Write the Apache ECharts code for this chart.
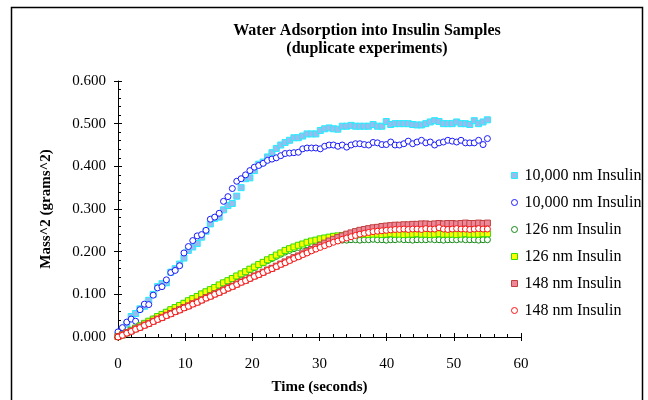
<!DOCTYPE html>
<html><head><meta charset="utf-8">
<script src="https://cdn.jsdelivr.net/npm/echarts@6/dist/echarts.min.js"></script>
<style>html,body{margin:0;padding:0;background:#fff}#c{width:648px;height:400px}</style>
</head><body><div id="c"></div>
<script>
const times = [0,0.65,1.31,1.96,2.62,3.27,3.93,4.58,5.24,5.89,6.55,7.2,7.86,8.51,9.17,9.82,10.48,11.13,11.79,12.44,13.1,13.75,14.4,15.06,15.71,16.37,17.02,17.68,18.33,18.99,19.64,20.3,20.95,21.61,22.26,22.92,23.57,24.23,24.88,25.54,26.19,26.85,27.5,28.15,28.81,29.46,30.12,30.77,31.43,32.08,32.74,33.39,34.05,34.7,35.36,36.01,36.67,37.32,37.98,38.63,39.29,39.94,40.6,41.25,41.9,42.56,43.21,43.87,44.52,45.18,45.83,46.49,47.14,47.8,48.45,49.11,49.76,50.42,51.07,51.73,52.38,53.04,53.69,54.35,55];
const ins10000A = [0.005,0.018,0.030,0.048,0.055,0.066,0.072,0.086,0.100,0.118,0.125,0.127,0.152,0.160,0.171,0.185,0.203,0.211,0.219,0.234,0.248,0.265,0.278,0.281,0.298,0.308,0.313,0.330,0.350,0.371,0.373,0.390,0.405,0.410,0.422,0.432,0.442,0.450,0.456,0.461,0.467,0.467,0.471,0.476,0.476,0.476,0.484,0.488,0.490,0.488,0.487,0.494,0.494,0.496,0.494,0.494,0.494,0.494,0.498,0.494,0.494,0.505,0.498,0.500,0.500,0.500,0.500,0.498,0.497,0.497,0.500,0.504,0.507,0.505,0.500,0.500,0.500,0.504,0.500,0.500,0.498,0.507,0.500,0.504,0.509];
const ins10000B = [0.012,0.022,0.035,0.042,0.037,0.064,0.077,0.076,0.098,0.115,0.118,0.134,0.151,0.156,0.167,0.197,0.212,0.226,0.237,0.240,0.250,0.276,0.281,0.290,0.318,0.329,0.348,0.365,0.371,0.380,0.390,0.398,0.402,0.407,0.414,0.417,0.420,0.425,0.430,0.431,0.432,0.433,0.441,0.443,0.443,0.443,0.441,0.447,0.450,0.450,0.447,0.450,0.445,0.450,0.453,0.453,0.451,0.450,0.456,0.455,0.451,0.451,0.457,0.450,0.450,0.453,0.459,0.453,0.457,0.461,0.455,0.457,0.450,0.455,0.457,0.461,0.459,0.457,0.461,0.455,0.455,0.455,0.461,0.451,0.465];
const ins126B = [0.000,0.005,0.009,0.015,0.020,0.026,0.031,0.036,0.042,0.047,0.052,0.058,0.063,0.068,0.073,0.079,0.084,0.089,0.095,0.100,0.105,0.110,0.116,0.121,0.126,0.131,0.137,0.142,0.147,0.152,0.158,0.163,0.169,0.174,0.179,0.184,0.189,0.194,0.199,0.203,0.207,0.210,0.213,0.216,0.219,0.221,0.223,0.224,0.225,0.226,0.226,0.227,0.227,0.228,0.228,0.227,0.228,0.228,0.229,0.228,0.228,0.227,0.228,0.228,0.229,0.228,0.228,0.227,0.228,0.228,0.228,0.229,0.228,0.228,0.227,0.228,0.228,0.228,0.229,0.228,0.228,0.228,0.227,0.228,0.228];
const ins126A = [0.001,0.005,0.010,0.016,0.021,0.026,0.032,0.037,0.042,0.048,0.053,0.058,0.064,0.069,0.074,0.079,0.085,0.090,0.095,0.101,0.106,0.111,0.116,0.122,0.127,0.132,0.137,0.143,0.148,0.153,0.159,0.164,0.170,0.175,0.181,0.186,0.192,0.197,0.203,0.207,0.211,0.215,0.218,0.222,0.225,0.227,0.230,0.232,0.234,0.236,0.237,0.238,0.239,0.239,0.240,0.240,0.241,0.240,0.241,0.241,0.240,0.241,0.242,0.241,0.241,0.240,0.241,0.241,0.242,0.241,0.241,0.240,0.241,0.242,0.241,0.241,0.241,0.240,0.241,0.242,0.241,0.241,0.241,0.242,0.242];
const ins148A = [0.001,0.005,0.010,0.014,0.019,0.023,0.028,0.032,0.037,0.042,0.046,0.051,0.055,0.060,0.064,0.069,0.073,0.078,0.082,0.087,0.092,0.096,0.101,0.105,0.110,0.115,0.119,0.124,0.129,0.133,0.138,0.143,0.147,0.152,0.157,0.161,0.166,0.171,0.176,0.181,0.186,0.190,0.195,0.200,0.205,0.210,0.215,0.220,0.225,0.229,0.233,0.237,0.241,0.244,0.247,0.250,0.252,0.254,0.256,0.257,0.259,0.260,0.261,0.262,0.262,0.263,0.263,0.264,0.264,0.265,0.265,0.264,0.265,0.266,0.265,0.266,0.266,0.265,0.266,0.267,0.266,0.266,0.267,0.266,0.267];
const ins148B = [0.000,0.004,0.009,0.013,0.018,0.022,0.027,0.031,0.036,0.041,0.045,0.050,0.054,0.059,0.063,0.068,0.072,0.077,0.081,0.086,0.091,0.095,0.100,0.104,0.109,0.114,0.118,0.123,0.128,0.132,0.137,0.142,0.146,0.151,0.156,0.160,0.165,0.170,0.174,0.179,0.184,0.188,0.193,0.197,0.202,0.206,0.210,0.214,0.218,0.222,0.225,0.229,0.232,0.235,0.238,0.241,0.243,0.245,0.247,0.248,0.249,0.250,0.251,0.252,0.252,0.253,0.252,0.253,0.253,0.252,0.254,0.253,0.253,0.256,0.253,0.252,0.253,0.254,0.253,0.253,0.252,0.253,0.254,0.253,0.253];
const seriesNames = ['10,000 nm Insulin','10,000 nm Insulin ','126 nm Insulin','126 nm Insulin ','148 nm Insulin','148 nm Insulin '];
const titleLines = ['Water Adsorption into Insulin Samples','(duplicate experiments)'];
const xTitle = 'Time (seconds)';
const yTitle = 'Mass^2 (grams^2)';

const FONT = '"Liberation Serif","Times New Roman",serif';
const styles = [
  {symbol:'rect', size:6, color:'#99bbee', border:'#22eeff', bw:1},
  {symbol:'circle', size:6, color:'#ffffff', border:'#1a1aff', bw:1},
  {symbol:'circle', size:6, color:'#ffffff', border:'#118811', bw:1},
  {symbol:'rect', size:6, color:'#ffff00', border:'#33dd00', bw:1},
  {symbol:'rect', size:6, color:'#ee8899', border:'#c04040', bw:1},
  {symbol:'circle', size:6, color:'#ffffff', border:'#ff1111', bw:1}
];
const values = [ins10000A, ins10000B, ins126B, ins126A, ins148A, ins148B];
function pairs(v){ const out=[]; for(let i=0;i<Math.min(v.length,times.length);i++) out.push([times[i], v[i]]); return out; }

const series = values.map((v,k)=>({
  type:'scatter', name:seriesNames[k], xAxisIndex:0, yAxisIndex:0,
  data:pairs(v), symbol:styles[k].symbol, symbolSize:styles[k].size,
  itemStyle:{color:styles[k].color, borderColor:styles[k].border, borderWidth:styles[k].bw, opacity:1},
  emphasis:{disabled:true}, animation:false, z:2+k
}));

const chart = echarts.init(document.getElementById('c'), null, {renderer:'canvas'});
const axisCommonX = {type:'value', min:0, max:60, interval:10};
const axisCommonY = {type:'value', min:0, max:0.6, interval:0.1};
chart.setOption({
  animation:false,
  backgroundColor:'#ffffff',
  grid:{left:118, right:127, top:81, bottom:61, containLabel:false},
  title:{text:titleLines.join('\n'), left:362, top:17, textAlign:'center',
    textStyle:{fontFamily:FONT, fontSize:16, fontWeight:'bold', color:'#000', lineHeight:18}},
  legend:{
    orient:'vertical', left:511, top:167, itemGap:10, itemWidth:6, itemHeight:6,
    padding:0, selectedMode:false,
    textStyle:{fontFamily:FONT, fontSize:16, color:'#000', lineHeight:17, padding:[0,0,0,2]},
    data: seriesNames.map((n,k)=>({name:n, icon: styles[k].symbol==='rect'?'rect':'circle',
      itemStyle:{color:styles[k].color, borderColor:styles[k].border, borderWidth:1}}))
  },
  xAxis:[
    Object.assign({}, axisCommonX, {position:'bottom', name:xTitle, nameLocation:'middle', nameGap:43,
      nameTextStyle:{fontFamily:FONT, fontSize:15, fontWeight:'bold', color:'#000'},
      axisLine:{lineStyle:{color:'#000', width:1}},
      axisTick:{show:true, inside:false, length:4, lineStyle:{color:'#000'}},
      axisLabel:{fontFamily:FONT, fontSize:15, color:'#000', margin:20},
      splitLine:{show:false}}),
    Object.assign({}, axisCommonX, {position:'bottom', gridIndex:0,
      axisLine:{show:false}, axisLabel:{show:false},
      axisTick:{show:true, inside:true, length:4, lineStyle:{color:'#000'}},
      minorTick:{show:true, splitNumber:5, length:3, lineStyle:{color:'#000'}},
      splitLine:{show:false}})
  ],
  yAxis:[
    Object.assign({}, axisCommonY, {position:'left', name:yTitle, nameLocation:'middle', nameGap:64,
      nameTextStyle:{fontFamily:FONT, fontSize:15, fontWeight:'bold', color:'#000'},
      axisLine:{lineStyle:{color:'#000', width:1}},
      axisTick:{show:true, inside:false, length:4, lineStyle:{color:'#000'}},
      axisLabel:{fontFamily:FONT, fontSize:15, color:'#000', margin:12, formatter:v=>v.toFixed(3)},
      splitLine:{show:false}}),
    Object.assign({}, axisCommonY, {position:'left', gridIndex:0,
      axisLine:{show:false}, axisLabel:{show:false},
      axisTick:{show:true, inside:true, length:4, lineStyle:{color:'#000'}},
      minorTick:{show:true, splitNumber:5, length:3, lineStyle:{color:'#000'}},
      splitLine:{show:false}})
  ],
  graphic:[{type:'rect', shape:{x:11.5, y:7.5, width:631, height:420},
    style:{fill:null, stroke:'#000', lineWidth:1.5}, silent:true, z:100}],
  series: series
});
</script></body></html>
